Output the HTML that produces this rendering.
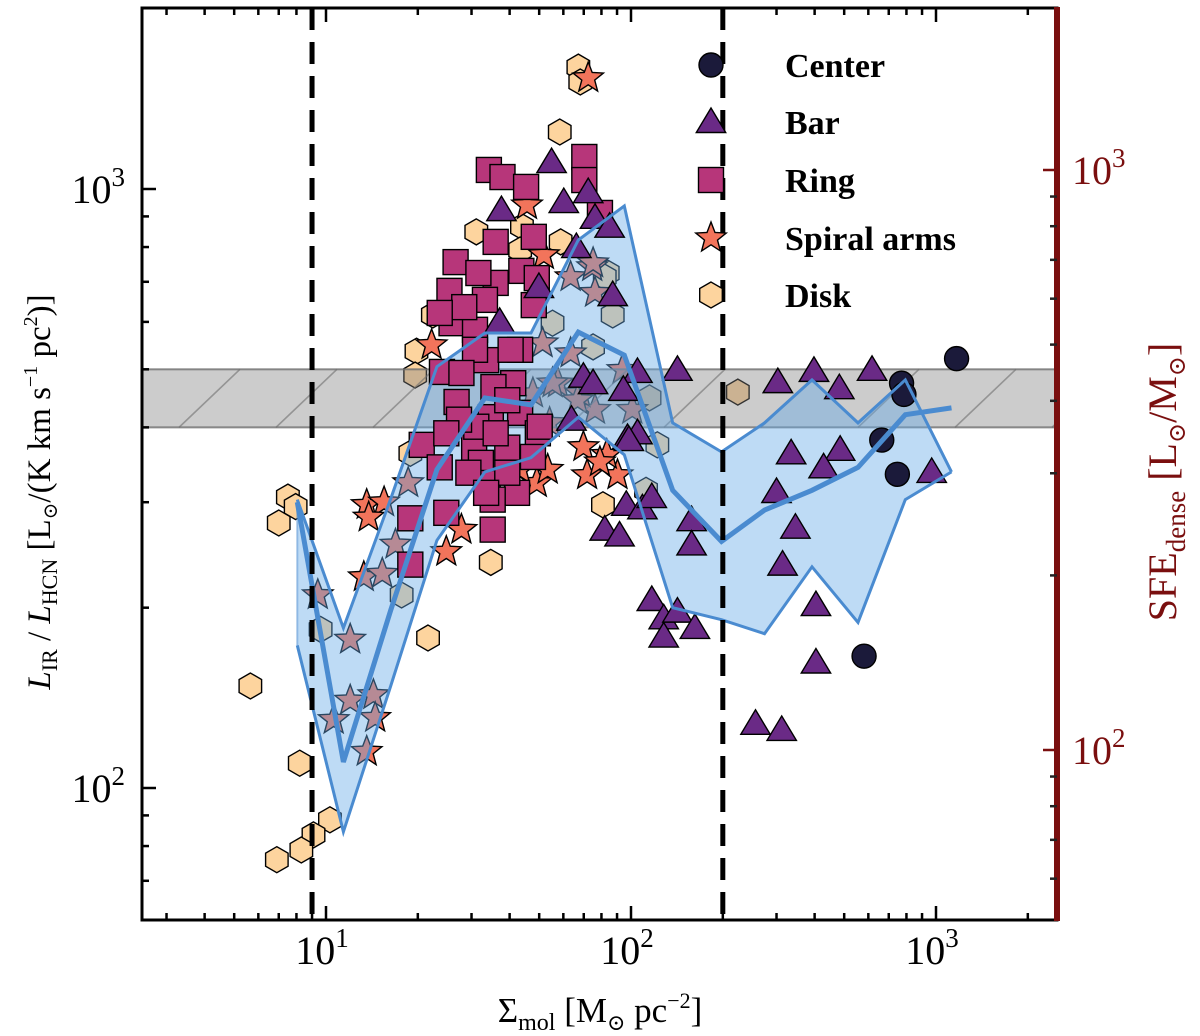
<!DOCTYPE html>
<html><head><meta charset="utf-8"><style>
html,body{margin:0;padding:0;background:#fff;}
svg{display:block;font-family:"Liberation Serif","DejaVu Serif",serif;}
</style></head><body>
<svg id="chart" width="1200" height="1036" viewBox="0 0 1200 1036" xmlns="http://www.w3.org/2000/svg">
<defs>
<clipPath id="plotclip"><rect x="142" y="8" width="915" height="912"/></clipPath>
</defs>
<g id="layer"></g>
</svg>
<script>
// ---- data ----
const centerX=[1168,771,785,664,747,581];
const centerY=[521,474,454,381,334,166];
const barX=[54.9,37.6,60.2,72.4,76.2,85.1,66.2,49.9,87.1,37.1,69.8,75.1,105,94.4,97.4,105,63.8,142,303,398,482,617,335,485,428,968,300,346,314,158,158,96.5,109,117,82,91.7,117,128,142,162,128,404,404,256,312,98.4];
const barY=[1109,922,951,988,895,865,800,686,665,600,486,474,495,462,384,391,412,499,476,497,465,499,362,367,343,337,312,272,236,280,255,297,293,306,270,264,206,192,197,185,179,202,162,128,125,381];
const ringX=[34.2,37.9,70.3,70.3,45.3,36.0,48.0,26.6,43.7,36.0,25.4,33.2,48.0,25.8,30.8,43.3,33.5,24.0,41.1,26.8,35.4,34.7,43.3,49.5,20.6,30.6,39.3,32.2,47.7,23.6,33.9,42.3,18.9,24.8,35.2,35.2,79.1,28.4,30.8,27.8,31.1,27.3,39.3,50.2,24.8,36.0,29.3,39.3,40.3,49.1,23.6,31.6,18.9,33.5];
const ringY=[1076,1047,1131,1035,1008,816,832,755,730,697,676,653,640,597,582,539,518,495,474,441,467,416,423,391,374,370,370,349,357,343,323,311,282,288,303,270,912,635,539,493,401,412,444,401,391,391,336,336,539,710,621,724,236,311];
const spiralX=[72.4,45.6,51.8,22.2,13.6,15.5,13.8,13.3,24.8,27.8,69.8,71.8,90.3,83.3,79.1,49.1,53.3,43.3,9.4,12.0,12.0,14.3,10.6,14.5,13.6,16.9,15.3,18.6,63.4,74.6,76.2,51.3,57.6,63.4,76.2,101,47.7,68.2,54.1,55.3,66.8,93.8,75.1];
const spiralY=[1532,940,776,549,297,300,283,225,248,270,371,333,333,360,350,323,340,340,210,177,140,143,130,131,115,255,228,323,713,741,671,553,474,532,428,428,456,456,407,474,444,499,752];
const diskX=[67.2,68.2,58.4,31.1,58.8,43.9,43.3,22.4,19.8,19.6,18.9,224,7.5,7.0,7.95,34.7,21.6,5.65,8.2,10.3,9.1,8.3,6.9,80.9,17.7,9.6,83.9,87.1,82.0,55.3,75.1,115,122,112];
const diskY=[1598,1509,1245,848,816,865,791,616,536,489,362,458,306,277,295,238,178,148,110,88.5,83.5,78.8,75.9,297,210,184,724,616,713,597,545,448,374,314];
const binX=[8.05,11.4,16.3,23.1,33.2,47.0,67.2,95.1,137,198,274,392,555,793,1124];
const medianY=[300,110.5,198,340,448,436,577,528,314,258,291,314,343,420,431];
const upperY=[303,185,304,505,575,575,822,937,407,364,407,480,407,480,337];
const lowerY=[173,84.5,148,259,337,356,416,360,200,191,181,234,189,303,337];
const bandLow=400, bandHigh=500;
const dashedX=[9,200];
const xMajor=[10,100,1000];
const yMajor=[100,1000];
const rMajor=[100,1000];
const xTickLabels=["1","2","3"];
const yTickLabels=["2","3"];
const legendLabels=["Center","Bar","Ring","Spiral arms","Disk"];

// ---- scales ----
const L=142,R=1057,T=8,B=920;
const xs=v=>326+(Math.log10(v)-1)*305;
const ys=v=>189-(Math.log10(v)-3)*599;
const yr=v=>170-(Math.log10(v)-3)*580;
const NS="http://www.w3.org/2000/svg";
const layer=document.getElementById('layer');
function mk(tag,attrs,parent){const e=document.createElementNS(NS,tag);for(const k in attrs)e.setAttribute(k,attrs[k]);(parent||layer).appendChild(e);return e;}
function grp(name,clip){const g=mk('g',clip?{'clip-path':'url(#plotclip)'}:{});


return g;}

const COL={center:'#1b1a3a',bar:'#6a2a86',ring:'#b7367a',spiral:'#f2745b',disk:'#fdd49e'};
function hexPts(cx,cy,r){let p=[];for(let i=0;i<6;i++){const a=Math.PI/180*(90+60*i);p.push((cx+r*Math.cos(a)).toFixed(1)+','+(cy-r*Math.sin(a)).toFixed(1));}return p.join(' ');}
function starPts(cx,cy,ro,ri){let p=[];for(let i=0;i<10;i++){const r=i%2?ri:ro;const a=Math.PI/180*(90+36*i);p.push((cx+r*Math.cos(a)).toFixed(1)+','+(cy-r*Math.sin(a)).toFixed(1));}return p.join(' ');}
function triPts(cx,cy,s){return `${cx},${cy-s} ${cx-s*1.05},${cy+s*0.75} ${cx+s*1.05},${cy+s*0.75}`;}
const mstyle={stroke:'#000','stroke-width':1.4};
function drawMarker(kind,cx,cy,g){let e;
 if(kind==='center')e=mk('circle',Object.assign({cx,cy,r:12,fill:COL.center},mstyle),g);
 else if(kind==='bar')e=mk('polygon',Object.assign({points:triPts(cx,cy,14),fill:COL.bar},mstyle),g);
 else if(kind==='ring')e=mk('rect',Object.assign({x:cx-12.5,y:cy-12.5,width:25,height:25,fill:COL.ring},mstyle),g);
 else if(kind==='spiral')e=mk('polygon',Object.assign({points:starPts(cx,cy,16,6.8),fill:COL.spiral},mstyle),g);
 else e=mk('polygon',Object.assign({points:hexPts(cx,cy,13),fill:COL.disk},mstyle),g);
 return e;}

const gDisk=grp('disk-points',true);
diskX.forEach((v,i)=>{const e=drawMarker('disk',xs(v),ys(diskY[i]),gDisk);

});
const gSp=grp('spiral-arms-points',true);
spiralX.forEach((v,i)=>{const e=drawMarker('spiral',xs(v),ys(spiralY[i]),gSp);

});

const gBand=grp('reference-band',true);
const by1=ys(bandHigh),by2=ys(bandLow);
mk('rect',{x:L,y:by1,width:R-L,height:by2-by1,fill:'rgba(128,128,128,0.4)',stroke:'rgba(110,110,110,0.8)','stroke-width':2},gBand);
for(let hx=L-60;hx<R+60;hx+=97){mk('line',{x1:hx,y1:by2,x2:hx+(by2-by1)*1.05,y2:by1,stroke:'rgba(110,110,110,0.6)','stroke-width':1.6},gBand);}

const gFill=grp('running-range-fill',true);
let pts=binX.map((v,i)=>xs(v).toFixed(1)+','+ys(upperY[i]).toFixed(1));
for(let i=binX.length-1;i>=0;i--)pts.push(xs(binX[i]).toFixed(1)+','+ys(lowerY[i]).toFixed(1));
mk('polygon',{points:pts.join(' '),fill:'rgba(100,170,232,0.42)',stroke:'none'},gFill);

const gRing=grp('ring-points',true);
ringX.forEach((v,i)=>{const e=drawMarker('ring',xs(v),ys(ringY[i]),gRing);

});
const gBar=grp('bar-points',true);
barX.forEach((v,i)=>{const e=drawMarker('bar',xs(v),ys(barY[i]),gBar);

});
const gC=grp('center-points',true);
centerX.forEach((v,i)=>{const e=drawMarker('center',xs(v),ys(centerY[i]),gC);

});

const gLines=grp('running-lines',true);
function pl(arr,w,name){const e=mk('polyline',{points:binX.map((v,i)=>xs(v).toFixed(1)+','+ys(arr[i]).toFixed(1)).join(' '),fill:'none',stroke:'#4a8bd0','stroke-width':w,'stroke-linejoin':'miter'},gLines);

}
pl(upperY,3,'upper-percentile-line');pl(lowerY,3,'lower-percentile-line');pl(medianY,5,'median-line');
mk('line',{x1:xs(binX[0]),y1:ys(upperY[0]),x2:xs(binX[0]),y2:ys(lowerY[0]),stroke:'rgba(74,139,208,0.5)','stroke-width':2},gLines);

const gD=grp('dashed-thresholds',true);
dashedX.forEach(v=>{const e=mk('line',{x1:xs(v),y1:T,x2:xs(v),y2:B,stroke:'#000','stroke-width':5,'stroke-dasharray':'22,12'},gD);

});

const gAx=grp('axes',false);
mk('rect',{x:L,y:T,width:R-L,height:B-T,fill:'none',stroke:'#000','stroke-width':3},gAx);
for(let d=0;d<=3;d++){for(let m=1;m<10;m++){const v=m*Math.pow(10,d);const x=xs(v);if(x<L+2||x>R-2)continue;const len=m===1?14:7;
 mk('line',{x1:x,y1:B,x2:x,y2:B-len,stroke:'#000','stroke-width':2.5},gAx);
 mk('line',{x1:x,y1:T,x2:x,y2:T+len,stroke:'#000','stroke-width':2.5},gAx);}}
xMajor.forEach((v,i)=>{const t=mk('text',{x:xs(v)-4,y:964,'text-anchor':'middle','font-size':40,fill:'#000'},gAx);t.innerHTML='10<tspan dy="-17" font-size="27">'+xTickLabels[i]+'</tspan>';

});
for(let d=1;d<=3;d++){for(let m=1;m<10;m++){const v=m*Math.pow(10,d);const y=ys(v);if(y<T+2||y>B-2)continue;const len=m===1?14:7;
 mk('line',{x1:L,y1:y,x2:L+len,y2:y,stroke:'#000','stroke-width':2.5},gAx);}}
yMajor.forEach((v,i)=>{const t=mk('text',{x:125,y:ys(v)+14,'text-anchor':'end','font-size':40,fill:'#000'},gAx);t.innerHTML='10<tspan dy="-17" font-size="27">'+yTickLabels[i]+'</tspan>';

});
const RED='#7a0f0f';
mk('line',{x1:R,y1:T-1,x2:R,y2:B+1,stroke:RED,'stroke-width':6},gAx);
for(let d=1;d<=3;d++){for(let m=1;m<10;m++){const v=m*Math.pow(10,d);const y=yr(v);if(y<T+2||y>B-2)continue;const len=m===1?14:7;
 mk('line',{x1:R,y1:y,x2:R-len,y2:y,stroke:m===1?RED:'#222','stroke-width':2.5},gAx);}}
rMajor.forEach((v,i)=>{const t=mk('text',{x:1072,y:yr(v)+14,'font-size':40,fill:RED},gAx);t.innerHTML='10<tspan dy="-17" font-size="27">'+yTickLabels[i]+'</tspan>';

});

const gL=grp('legend',false);
const kinds=['center','bar','ring','spiral','disk'];
const legY=[65,122,180,238,295];
kinds.forEach((k,i)=>{drawMarker(k,711,legY[i],gL);
 const t=mk('text',{x:785,y:legY[i]+12,'font-size':34,'font-weight':'bold',fill:'#000'},gL);t.textContent=legendLabels[i];
 
 });
</script>
<script>
(function(){const NS="http://www.w3.org/2000/svg";const svg=document.getElementById('chart');
function t(attrs,html,name){const e=document.createElementNS(NS,'text');for(const k in attrs)e.setAttribute(k,attrs[k]);e.innerHTML=html;


svg.appendChild(e);}
t({x:600,y:1022,'text-anchor':'middle','font-size':35,fill:'#000'},'Σ<tspan font-size="24" dy="8">mol</tspan><tspan dy="-8"> [M</tspan><tspan font-size="22" dy="8">⊙</tspan><tspan dy="-8"> pc</tspan><tspan font-size="22" dy="-14">−2</tspan><tspan dy="14">]</tspan>','x-axis-title');
t({x:0,y:0,transform:'translate(50,492) rotate(-90)','text-anchor':'middle','font-size':33,fill:'#000'},'<tspan font-style="italic">L</tspan><tspan font-size="22" dy="7">IR</tspan><tspan dy="-7"> / </tspan><tspan font-style="italic">L</tspan><tspan font-size="22" dy="7">HCN</tspan><tspan dy="-7"> [L</tspan><tspan font-size="20" dy="7">⊙</tspan><tspan dy="-7">/(K km s</tspan><tspan font-size="20" dy="-13">−1</tspan><tspan dy="13"> pc</tspan><tspan font-size="20" dy="-13">2</tspan><tspan dy="13">)]</tspan>','y-axis-title');
t({x:0,y:0,transform:'translate(1176,482) rotate(-90)','text-anchor':'middle','font-size':40,fill:'#7a0f0f'},'SFE<tspan font-size="27" dy="9">dense</tspan><tspan dy="-9"> [L</tspan><tspan font-size="24" dy="9">⊙</tspan><tspan dy="-9">/M</tspan><tspan font-size="24" dy="9">⊙</tspan><tspan dy="-9">]</tspan>','right-axis-title');
})();
</script>
</body></html>
